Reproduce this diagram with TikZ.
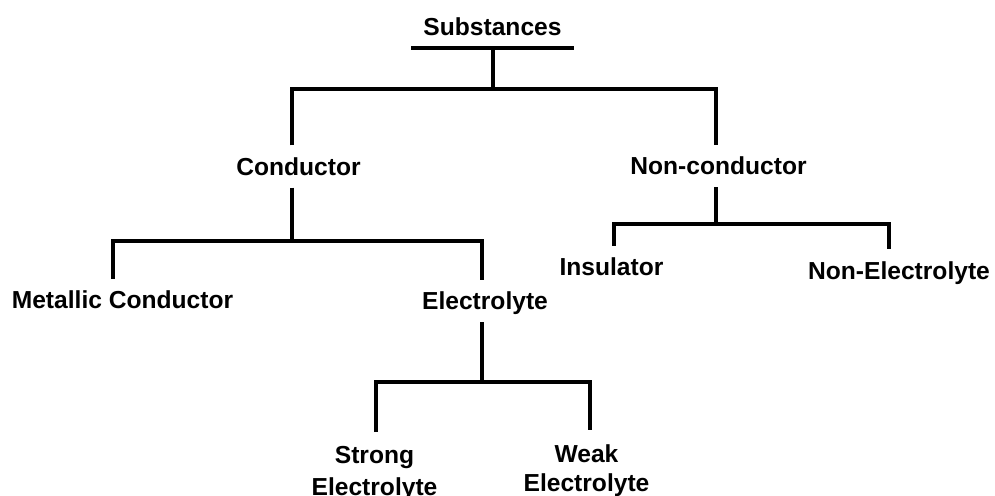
\documentclass[tikz,border=0pt]{standalone}
\usepackage{fontspec}
\setmainfont{Liberation Sans}
\usepackage{tikz}

\begin{document}
\begin{tikzpicture}[x=0.5pt,y=-0.5pt, line join=miter,
        font=\bfseries\fontsize{12.3}{14.5}\selectfont,
        lbl/.style={inner xsep=0pt, inner ysep=6pt, text height=8.8pt, text depth=0pt},
        twoline/.style={inner xsep=0pt, inner ysep=7pt, align=center, anchor=north},
        branch/.style={line width=2pt}]
        \useasboundingbox (0,0) rectangle (995,495);
        % labels
        \node[lbl, inner xsep=6pt] (sub) at (492.5,26.5) {Substances};
        \node[lbl] (cond) at (298.5,166.5) {Conductor};
        \node[lbl] (ncond) at (718.5,166) {Non-conductor};
        \node[lbl] (metal) at (122.5,300) {Metallic Conductor};
        \node[lbl] (elec) at (485,301) {Electrolyte};
        \node[lbl] (insul) at (611.5,267) {Insulator};
        \node[lbl] (nelec) at (899,270.5) {Non-Electrolyte};
        \node[twoline] (strong) at (374.5,432) {Strong\\[1.5pt]Electrolyte};
        \node[twoline] (weak) at (586.5,430) {Weak\\Electrolyte};
        % bars
        \coordinate (b0l) at (292,89);  \coordinate (b0r) at (716,89);
        \coordinate (b1l) at (113,241); \coordinate (b1r) at (482,241);
        \coordinate (b2l) at (614,224); \coordinate (b2r) at (889,224);
        \coordinate (b3l) at (376,382); \coordinate (b3r) at (590,382);
        % tree
        \draw[branch] (sub.south west) -- (sub.south east);
        \draw[branch] (sub.south) -- (sub.south |- b0l);
        \draw[branch] (cond.north -| b0l) -- (b0l) -- (b0r) -- (ncond.north -| b0r);
        \draw[branch] (b0l |- cond.south) -- (b0l |- b1l);
        \draw[branch] (metal.north -| b1l) -- (b1l) -- (b1r) -- (elec.north -| b1r);
        \draw[branch] (b0r |- ncond.south) -- (b0r |- b2l);
        \draw[branch] (insul.north -| b2l) -- (b2l) -- (b2r) -- (nelec.north -| b2r);
        \draw[branch] (b1r |- elec.south) -- (b1r |- b3l);
        \draw[branch] (strong.north -| b3l) -- (b3l) -- (b3r) -- (weak.north -| b3r);
\end{tikzpicture}
\end{document}
